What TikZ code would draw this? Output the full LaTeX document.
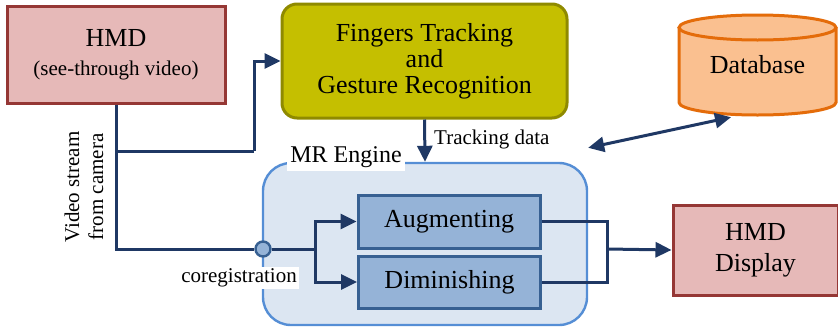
\documentclass[tikz,border=0pt]{standalone}
\usepackage{fontspec}
\setmainfont{Liberation Serif}
\usetikzlibrary{arrows.meta}

\definecolor{hmdfill}{RGB}{230,185,184}
\definecolor{hmdline}{RGB}{149,55,53}
\definecolor{fingfill}{RGB}{197,191,0}
\definecolor{fingline}{RGB}{143,138,0}
\definecolor{dbfill}{RGB}{250,192,144}
\definecolor{dbline}{RGB}{228,108,10}
\definecolor{engfill}{RGB}{220,230,242}
\definecolor{engline}{RGB}{85,142,213}
\definecolor{modfill}{RGB}{149,179,215}
\definecolor{modline}{RGB}{55,96,146}
\definecolor{wire}{RGB}{31,56,100}

\tikzset{
  bigtext/.style={font=\fontsize{26}{26}\selectfont},
  smalltext/.style={font=\fontsize{21}{24}\selectfont},
  hmdbox/.style={draw=hmdline,fill=hmdfill,line width=3pt,bigtext,align=center},
  modbox/.style={draw=modline,fill=modfill,line width=3pt,bigtext,minimum width=182,minimum height=53},
  link/.style={draw=wire,line width=3pt},
  arrow/.style={link,-{Triangle[length=16pt,width=15pt]}},
  dblarrow/.style={link,{Triangle[length=16pt,width=15pt]}-{Triangle[length=16pt,width=15pt]}}
}

\begin{document}
\begin{tikzpicture}[x=1pt,y=1pt,yscale=-1,xscale=1]
\useasboundingbox (0,0) rectangle (838,327);

% Boxes
\node (engine) [draw=engline,fill=engfill,line width=2.4pt,rounded corners=28pt,minimum width=324,minimum height=162] at (425,244) {};
\node (hmd) [hmdbox,minimum width=218,minimum height=97] at (116,54.5) {HMD\\[3pt]{\fontsize{21}{24}\selectfont (see-through video)}};
\node (fingers) [draw=fingline,fill=fingfill,line width=3pt,rounded corners=15pt,minimum width=285,minimum height=114,bigtext,align=center] at (424.5,61) {Fingers Tracking\\and\\Gesture Recognition};
% Database cylinder
\draw [draw=dbline,fill=dbfill,line width=3pt] (679,27.5) -- (679,102.5) arc [start angle=180,end angle=0,x radius=78.5,y radius=12.5] -- (836,27.5);
\draw [draw=dbline,fill=dbfill,line width=3pt] (757.5,27.5) ellipse [x radius=78.5,y radius=12.5];
\node (db) [bigtext,minimum width=157,minimum height=100] at (757.5,65) {Database};
\node (aug) [modbox] at (449,221.5) {Augmenting};
\node (dim) [modbox,minimum height=52] at (449.5,282) {Diminishing};
\node (disp) [hmdbox,minimum width=165,minimum height=90,font=\fontsize{26}{31}\selectfont] at (755.5,250) {HMD\\Display};
\node (coreg) [circle,draw=modline,fill=modfill,line width=2.4pt,minimum size=15,inner sep=0pt] at (263,249) {};

% Labels
\node (enginelabel) [fill=white,inner sep=3pt,font=\fontsize{24}{26}\selectfont] at (346,157) {MR Engine};
\node (coreglabel) [fill=white,inner sep=2pt,smalltext] at (239,278) {coregistration};
\node (tracklabel) [anchor=west,inner sep=0pt,smalltext] at (434,139) {Tracking data};
\node (videolabel) [rotate=90,align=center,smalltext] at (84,187) {Video stream\\from camera};

% Connectors
\coordinate (fork) at (116,151);
\coordinate (bend) at (254,151);
\coordinate (split) at (315,249);
\coordinate (merge) at (607,249);
\draw [link] (hmd.south) |- (coreg.west);
\draw [link] (fork) -- (bend);
\draw [arrow] (bend) |- (fingers.west);
\draw [link] (coreg.east) -- (split);
\draw [arrow] (split) |- (aug.west);
\draw [arrow] (split) |- (dim.west);
\draw [link] (aug.east) -| (merge);
\draw [link] (dim.east) -| (merge);
\draw [arrow] (merge) -- (disp.west);
\draw [arrow] (fingers.south) -- (engine.north);
\draw [dblarrow] ([yshift=-14pt]engine.north east) -- ([xshift=-26.5pt,yshift=2pt]db.south);

\end{tikzpicture}
\end{document}
